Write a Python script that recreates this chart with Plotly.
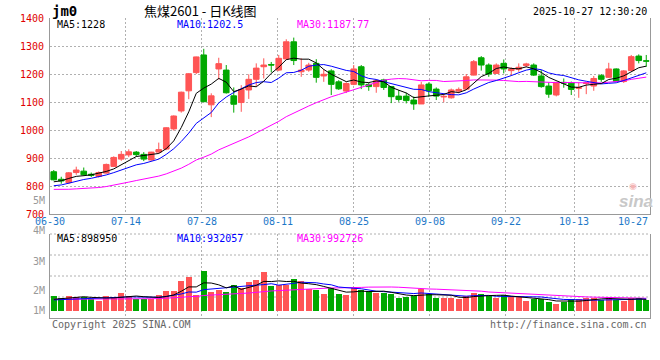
import plotly.graph_objects as go
import pandas as pd

# ---------------- data ----------------
date_labels = ["06-30", "07-14", "07-28", "08-11", "08-25", "09-08", "09-22", "10-13", "10-27"]
date_label_index = [0, 10, 20, 30, 40, 50, 60, 69, 79]   # trading-day index of each label

open_ = [851, 824, 812, 848, 853, 842, 834, 846, 870, 896,
         911, 921, 913, 893, 921, 932, 1004, 1068, 1140, 1205,
         1268, 1090, 1218, 1214, 1122, 1098, 1143, 1181, 1226, 1234,
         1214, 1254, 1315, 1208, 1214, 1238, 1193, 1211, 1172, 1139,
         1163, 1226, 1163, 1155, 1179, 1155, 1121, 1121, 1107, 1093,
         1164, 1146, 1118, 1115, 1139, 1146, 1196, 1258, 1232, 1202,
         1238, 1212, 1217, 1230, 1232, 1193, 1157, 1125, 1170, 1167,
         1149, 1166, 1157, 1194, 1188, 1218, 1173, 1212, 1264, 1247]
high = [857, 833, 850, 869, 866, 848, 852, 880, 906, 925,
        931, 925, 921, 922, 955, 1010, 1052, 1137, 1203, 1262,
        1290, 1131, 1258, 1232, 1152, 1160, 1199, 1238, 1256, 1243,
        1268, 1324, 1330, 1256, 1240, 1253, 1217, 1217, 1178, 1170,
        1232, 1232, 1169, 1181, 1183, 1157, 1143, 1133, 1120, 1172,
        1170, 1152, 1128, 1148, 1152, 1200, 1250, 1264, 1238, 1238,
        1252, 1224, 1238, 1240, 1238, 1214, 1170, 1172, 1184, 1173,
        1169, 1170, 1193, 1200, 1240, 1220, 1214, 1268, 1270, 1268]
low = [820, 808, 807, 840, 836, 832, 830, 844, 868, 890,
       903, 905, 889, 891, 917, 928, 998, 1062, 1110, 1200,
       1100, 1046, 1180, 1130, 1062, 1065, 1111, 1155, 1184, 1206,
       1210, 1250, 1232, 1190, 1208, 1169, 1172, 1125, 1143, 1132,
       1160, 1146, 1140, 1133, 1143, 1096, 1101, 1095, 1072, 1093,
       1119, 1107, 1099, 1112, 1131, 1144, 1195, 1212, 1190, 1200,
       1202, 1193, 1208, 1224, 1193, 1151, 1115, 1120, 1151, 1125,
       1115, 1128, 1140, 1172, 1186, 1172, 1168, 1210, 1238, 1226]
close = [822, 818, 847, 857, 840, 838, 848, 877, 902, 913,
         922, 912, 896, 921, 930, 1008, 1050, 1135, 1201, 1261,
         1101, 1122, 1237, 1133, 1092, 1145, 1181, 1221, 1232, 1232,
         1256, 1315, 1248, 1214, 1232, 1188, 1199, 1163, 1147, 1166,
         1218, 1161, 1155, 1176, 1152, 1119, 1109, 1105, 1093, 1161,
         1140, 1121, 1120, 1143, 1145, 1190, 1244, 1232, 1200, 1232,
         1218, 1218, 1224, 1236, 1196, 1155, 1128, 1170, 1168, 1145,
         1151, 1168, 1184, 1181, 1218, 1173, 1211, 1262, 1248, 1246]
volume = [1176000, 1043000, 1176000, 1070000, 1096000, 936000, 802000, 1176000, 1096000, 1417000,
          1203000, 963000, 909000, 963000, 1257000, 1578000, 1578000, 2380000, 2701000, 1257000,
          3209000, 1497000, 1658000, 1497000, 2059000, 1791000, 2299000, 2460000, 3102000, 1979000,
          2059000, 2059000, 2540000, 2380000, 1738000, 1684000, 1337000, 1791000, 1337000, 1257000,
          1791000, 1658000, 1578000, 1390000, 1390000, 1310000, 1043000, 1123000, 1150000, 1711000,
          1337000, 1043000, 1043000, 1043000, 936000, 1176000, 1444000, 1310000, 1150000, 1043000,
          1257000, 1070000, 1070000, 775000, 936000, 909000, 722000, 535000, 668000, 909000,
          963000, 989000, 989000, 856000, 1070000, 829000, 802000, 989000, 1016000, 856000]

# estimated sessions before 06-30 (off-chart), needed so the moving averages start at the left edge
prior_close = [830, 825, 815, 805, 795,
               782, 772, 762, 754, 747, 742, 750, 757, 764, 772, 780, 787, 792, 797, 802,
               790, 785, 780, 785, 795,
               800, 805, 820, 828]
prior_volume = [1050000, 1100000, 1000000, 950000, 1020000, 980000, 900000, 920000, 880000, 950000,
                900000, 850000, 920000, 880000, 900000, 860000, 950000, 880000, 910000, 870000,
                780000, 850000, 800000, 820000, 800000,
                820000, 860000, 830000, 860000]

price_ticks = [700, 800, 900, 1000, 1100, 1200, 1300, 1400]
price_ma_text = ["MA5:1228", "MA10:1202.5", "MA30:1187.77"]
volume_ma_text = ["MA5:898950", "MA10:932057", "MA30:992726"]
volume_tick_text = ["5M", "4M", "3M", "2M", "1M"]

# ---------------- derived series ----------------
n = len(close)
x = list(range(n))
close_all = pd.Series(prior_close + close, dtype=float)
vol_all = pd.Series(prior_volume + volume, dtype=float)
ma = {w: close_all.rolling(w).mean().iloc[-n:].tolist() for w in (5, 10, 30)}
vma = {w: vol_all.rolling(w).mean().iloc[-n:].tolist() for w in (5, 10, 30)}

RED = "#FF5555"
GREEN = "#00A800"
MA_COL = {5: "#000000", 10: "#0000FF", 30: "#FF00FF"}
GRID = "#B0B0B0"
AXIS = "#999999"
MONO = "DejaVu Sans Mono, Liberation Mono, monospace"

vol_colors = [RED if c >= o else GREEN for o, c in zip(open_, close)]

# grid positions (Sina spaces its date grid over n-1 steps)
grid_x = [-0.5 + k * n / (n - 1) for k in date_label_index]

# ---------------- figure ----------------
W, H = 660, 360
L, R, T, B = 50, 10, 18, 42
PH = H - T - B


def px(xp):
    return (xp - L) / (W - L - R)


def py(yp):
    return (H - B - yp) / PH


fig = go.Figure()
fig.add_trace(go.Candlestick(
    x=x, open=open_, high=high, low=low, close=close,
    xaxis="x", yaxis="y",
    increasing=dict(line=dict(color=RED, width=1), fillcolor=RED),
    decreasing=dict(line=dict(color=GREEN, width=1), fillcolor=GREEN),
    whiskerwidth=0, showlegend=False, hoverinfo="skip"))
for w in (30, 10, 5):
    fig.add_trace(go.Scatter(x=x, y=ma[w], mode="lines", xaxis="x", yaxis="y",
                             line=dict(color=MA_COL[w], width=1),
                             showlegend=False, hoverinfo="skip"))
fig.add_trace(go.Bar(x=x, y=volume, xaxis="x2", yaxis="y2", width=0.8,
                     marker=dict(color=vol_colors, line=dict(width=0)),
                     showlegend=False, hoverinfo="skip"))
for w in (30, 10, 5):
    fig.add_trace(go.Scatter(x=x, y=vma[w], mode="lines", xaxis="x2", yaxis="y2",
                             line=dict(color=MA_COL[w], width=1),
                             showlegend=False, hoverinfo="skip"))

price_bottom = py(214)
vol_top = py(234)
vol_range = [-585000, 6127000]

axis_common = dict(range=[-0.5, n - 0.5], tickmode="array", tickvals=grid_x,
                   showticklabels=False, showgrid=True, gridcolor=GRID, griddash="2px,2px",
                   gridwidth=1, showline=True, linecolor=AXIS, linewidth=1,
                   zeroline=False, ticks="", fixedrange=True)

fig.update_layout(
    width=W, height=H,
    margin=dict(l=L, r=R, t=T, b=B, pad=0),
    paper_bgcolor="white", plot_bgcolor="white",
    boxgap=0.25, boxgroupgap=0,
    bargap=0,
    xaxis=dict(domain=[0, 1], anchor="y", rangeslider=dict(visible=False), **axis_common),
    xaxis2=dict(domain=[0, 1], anchor="y2", matches="x", **axis_common),
    yaxis=dict(domain=[price_bottom, 1], range=[700, 1400], tickmode="array",
               tickvals=price_ticks, ticktext=[str(v) for v in price_ticks],
               tickfont=dict(family=MONO, size=10, color="#E00000"),
               showgrid=True, gridcolor=GRID, griddash="2px,2px", gridwidth=1,
               showline=True, mirror=True, linecolor=AXIS, linewidth=1,
               zeroline=False, ticks="", ticklabelstandoff=3, fixedrange=True),
    yaxis2=dict(domain=[0, vol_top], range=vol_range, showticklabels=False,
                showgrid=False, showline=True, mirror=True, linecolor=AXIS, linewidth=1,
                zeroline=False, ticks="", fixedrange=True),
    showlegend=False,
)

# volume panel: dotted horizontal grid + dotted top border
for f in (0.25, 0.5, 0.75, 1.0):
    fig.add_shape(type="line", xref="x2 domain", yref="y2 domain", x0=0, x1=1, y0=f, y1=f,
                  line=dict(color=GRID, width=1, dash="2px,2px"), layer="below")

ann = []


def text(s, xp, yp, color="#000000", size=10, anchor="left", family=MONO, **kw):
    ann.append(dict(text=s, x=px(xp), y=py(yp), xref="paper", yref="paper",
                    xanchor=anchor, yanchor="middle", showarrow=False,
                    font=dict(family=family, size=size, color=color, **kw)))


# header
text("jm0", 50, 11, size=14, weight="bold")
text("焦煤2601 - 日K线图", 200, 11, size=13, anchor="center",
     family="Noto Sans CJK SC, sans-serif")
text("2025-10-27 12:30:20", 649, 12, size=10, anchor="right")

# moving-average legends
for s, xl, w in zip(price_ma_text, (55, 175, 295), (5, 10, 30)):
    text(s, xl, 24, color=MA_COL[w])
for s, xl, w in zip(volume_ma_text, (55, 175, 295), (5, 10, 30)):
    text(s, xl, 238.5, color=MA_COL[w])

# volume scale labels (as placed by Sina)
for s, yl in zip(volume_tick_text, (200.7, 230.7, 261, 290, 310)):
    text(s, 47, yl, color="#999999", size=10, anchor="right")

# date labels
for k, (lab, gx) in enumerate(zip(date_labels, grid_x)):
    last = k == len(date_labels) - 1
    ann.append(dict(text=lab, x=min(gx, n - 0.5), y=py(221.7), xref="x", yref="paper",
                    xanchor="right" if last else "center", yanchor="middle", showarrow=False,
                    font=dict(family=MONO, size=10, color="#1E78C8")))

# footer
text("Copyright 2025 SINA.COM", 50, 324, color="#666666", size=10)
text("http://finance.sina.com.cn", 649, 324, color="#666666", size=10, anchor="right")

# watermark
text("◉", 633, 186, color="#F4B4B4", size=9, anchor="center",
     family="DejaVu Sans, sans-serif")
text("sina", 636, 201, color="#C8C8C8", size=17, anchor="center",
     family="Liberation Sans, Arial, sans-serif", style="italic", weight="bold")

fig.update_layout(annotations=ann)
fig.write_html("out.html", config={"displayModeBar": False},
               post_script="document.body.style.margin='0';document.body.style.overflow='hidden';")
